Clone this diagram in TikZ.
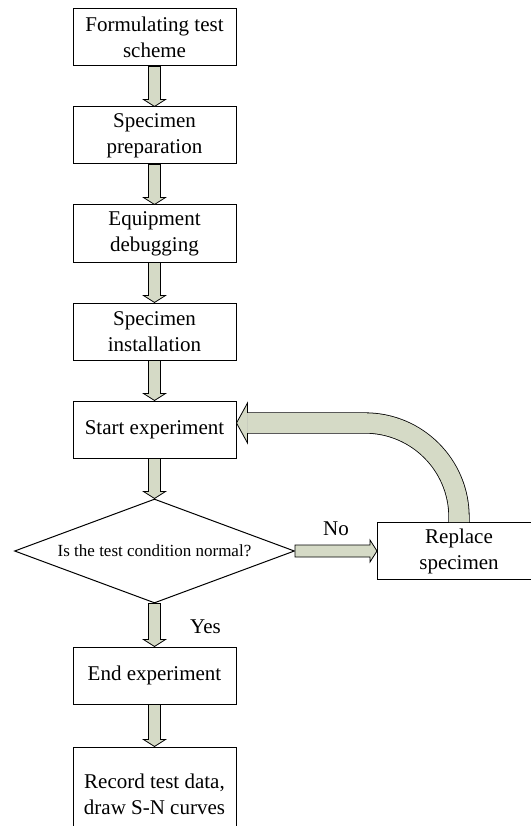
\documentclass[tikz,border=0pt]{standalone}
\usepackage{fontspec}
\setmainfont{Liberation Serif}
\usetikzlibrary{positioning}
\usetikzlibrary{shapes.geometric}
\usetikzlibrary{calc}
\definecolor{arrowfill}{RGB}{213,218,198}
\tikzset{node distance=40pt,
box/.style={
draw, line width=1pt,
minimum width=163pt, minimum height=57pt,
align=center, inner sep=2pt,
font=\fontsize{21}{26}\selectfont},
decision/.style={
draw, line width=1pt, shape=diamond, aspect=2.7,
minimum width=280pt, minimum height=104pt, inner sep=0pt,
font=\fontsize{17}{20}\selectfont},
lbl/.style={font=\fontsize{21}{26}\selectfont},
blockarrow/.style={
draw, line width=0.8pt, fill=arrowfill,
to path={
($(\tikztotarget)!7pt!(\tikztostart)$) coordinate (bhead)
($(\tikztostart)!6pt!90:(\tikztotarget)$) -- ($(bhead)!6pt!90:(\tikztotarget)$) -- ($(bhead)!11pt!90:(\tikztotarget)$) -- (\tikztotarget) -- ($(bhead)!11pt!-90:(\tikztotarget)$) -- ($(bhead)!6pt!-90:(\tikztotarget)$) -- ($(\tikztostart)!6pt!-90:(\tikztotarget)$) -- cycle}}}

\begin{document}
\begin{tikzpicture}[x=1pt, y=1pt]
\useasboundingbox (0,0) rectangle (530,-826);
\node[box] (scheme) at (154.5,-37.5) {Formulating test\\scheme};
\node[box, below=of scheme] (prep) {Specimen\\preparation};
\node[box, below=of prep] (debug) {Equipment\\debugging};
\node[box, below=of debug] (install) {Specimen\\installation};
\node[box, below=of install] (start) {Start experiment};
\node[decision, below=of start] (check) {Is the test condition normal?};
\node[box, right=82pt of check] (replace) {Replace\\specimen};
\node[box, below=43pt of check] (finish) {End experiment};
\node[box, below=42pt of finish, minimum height=94pt] (record) {Record test data,\\draw S-N curves};
\draw[blockarrow] (scheme.south) to (prep.north);
\draw[blockarrow] (prep.south) to (debug.north);
\draw[blockarrow] (debug.south) to (install.north);
\draw[blockarrow] (install.south) to (start.north);
\draw[blockarrow] (start.south) to (check.north);
\draw[blockarrow] (check.east) to (replace.west);
\draw[blockarrow] (check.south) to (finish.north);
\draw[blockarrow] (finish.south) to (record.north);
\node[lbl, anchor=base] (no) at ($(check.east)!0.5!(replace.west)+(0,16)$) {No};
\node[lbl, anchor=base] (yes) at ($(check.south)!0.5!(finish.north)+(51,-8.5)$) {Yes};
\coordinate (tip) at ([yshift=6.5pt]start.east);
\coordinate (hb) at ([xshift=11pt]tip);
\draw[line width=0.8pt, double=arrowfill, double distance=19.6pt, rounded corners=94pt] (replace.north) |- (hb);
\fill[arrowfill] ([yshift=10.2pt]hb) -- ([yshift=20pt]hb) -- (tip) -- ([yshift=-20pt]hb) -- ([yshift=-10.2pt]hb) -- cycle;
\draw[line width=0.8pt] ([yshift=10.2pt]hb) -- ([yshift=20pt]hb) -- (tip) -- ([yshift=-20pt]hb) -- ([yshift=-10.2pt]hb);
\end{tikzpicture}
\end{document}
